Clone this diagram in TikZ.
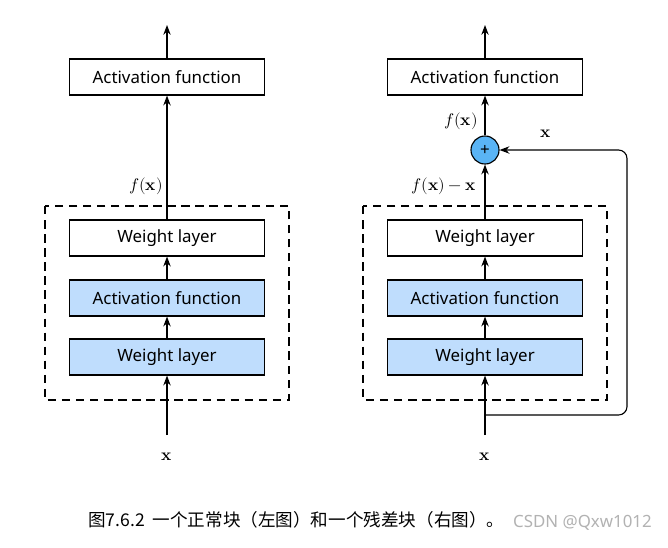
\documentclass[tikz,border=0pt]{standalone}
\usepackage{fontspec}
\setmainfont{Noto Sans}
\newfontfamily\cjk{Noto Sans CJK SC}
\usepackage{unicode-math}
\setmathfont{Latin Modern Math}
\usetikzlibrary{arrows.meta}
\definecolor{layerblue}{HTML}{BFDDFD}
\definecolor{plusblue}{HTML}{5AB4F5}
\tikzset{
    layer/.style={draw, thick, minimum width=4.87cm, minimum height=0.9cm, font=\fontsize{12}{14}\selectfont},
    blue layer/.style={layer, fill=layerblue},
    flow/.style={-{Stealth[length=7pt]}, thick},
    block/.style={draw, thick, dashed, dash pattern=on 6pt off 4pt},
    mlabel/.style={font=\fontsize{12}{14}\selectfont}
}
\begin{document}
\begin{tikzpicture}[x=0.025cm, y=-0.025cm]
\useasboundingbox (0,0) rectangle (668,547);

% Normal block (left)
\node[layer] (act1) at (167,77) {Activation function};
\node[layer] (w1a) at (167,238) {Weight layer};
\node[blue layer] (a1) at (167,298) {Activation function};
\node[blue layer] (w1b) at (167,357) {Weight layer};
\draw[block] (45,206) rectangle (289,400);
\node[mlabel] (x1) at (167,457) {$\symbf{x}$};
\coordinate (in1) at (167,435);
\coordinate (out1) at (167,25);
\draw[flow] (in1) -- (w1b);
\draw[flow] (w1b) -- (a1);
\draw[flow] (a1) -- (w1a);
\draw[flow] (w1a) -- (act1);
\draw[flow] (act1) -- (out1);
\node[mlabel] (f1) at (146,186) {$f(\symbf{x})$};

% Residual block (right)
\node[layer] (act2) at (485,77) {Activation function};
\node[draw, thick, circle, fill=plusblue, minimum size=0.7cm, inner sep=0pt, font=\fontsize{12}{14}\selectfont] (plus) at (485,150) {+};
\node[layer] (w2a) at (485,238) {Weight layer};
\node[blue layer] (a2) at (485,298) {Activation function};
\node[blue layer] (w2b) at (485,357) {Weight layer};
\draw[block] (363,206) rectangle (607,400);
\node[mlabel] (x2) at (485,457) {$\symbf{x}$};
\coordinate (in2) at (485,435);
\coordinate (split) at (485,415);
\coordinate (out2) at (485,25);
\draw[flow] (in2) -- (w2b);
\draw[flow] (w2b) -- (a2);
\draw[flow] (a2) -- (w2a);
\draw[flow] (w2a) -- (plus);
\draw[flow] (plus) -- (act2);
\draw[flow] (act2) -- (out2);
\draw[flow, rounded corners=6pt] (split) -| (627,150) -- (plus);
\node[mlabel] (f2) at (461,121) {$f(\symbf{x})$};
\node[mlabel] (fx) at (444,186) {$f(\symbf{x})-\symbf{x}$};
\node[mlabel] (xs) at (546,134) {$\symbf{x}$};

% caption
\node[anchor=west, inner sep=0pt, font=\cjk\fontsize{12.5}{15}\selectfont] (cap) at (88,520) {图7.6.2\ \ 一个正常块（左图）和一个残差块（右图）。};
\node[anchor=east, inner sep=0pt, text=gray!60, font=\fontsize{12}{14}\selectfont] (wm) at (652,523) {CSDN @Qxw1012};
\end{tikzpicture}
\end{document}
